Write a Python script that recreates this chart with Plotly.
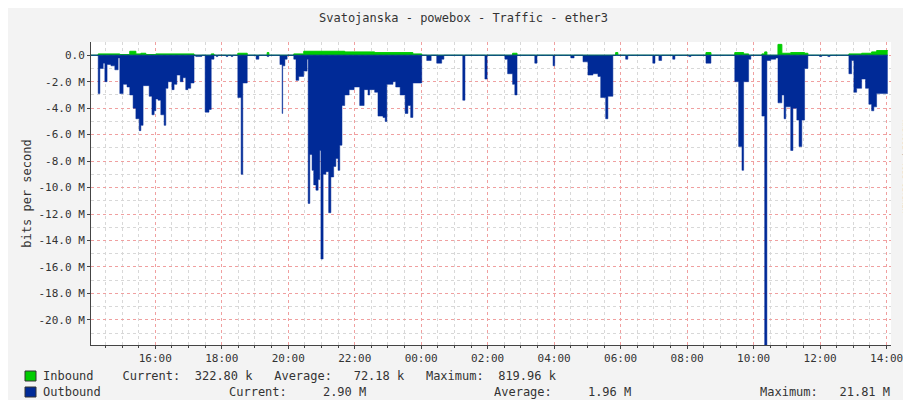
import plotly.graph_objects as go

# minutes after 14:00 of day 1, values in Mbit/s (outbound drawn negative)
out_min = [4, 17, 20, 26, 29, 33, 40, 47, 53, 56, 62, 69, 74, 80, 85, 91, 94, 98, 103, 109,
           114, 118, 121, 125, 130, 136, 139, 143, 150, 154, 159, 165, 170, 175, 179, 184, 190,
           193, 199, 204, 210, 217, 221, 226, 230, 233, 248, 251, 257, 260, 269, 275, 278, 286,
           302, 307, 322, 325, 345, 349, 350, 354, 358, 370, 374, 379, 388, 394, 396, 399, 403,
           406, 410, 414, 417, 419, 423, 428, 433, 437, 442, 446, 450, 453, 457, 462, 470, 479,
           489, 497, 504, 507, 516, 522, 531, 535, 538, 549, 554, 562, 571, 576, 581, 585, 601,
           610, 618, 628, 637, 641, 675, 679, 715, 719, 751, 756, 765, 769, 773, 805, 809, 838,
           841, 870, 876, 892, 901, 910, 919, 924, 933, 937, 946, 969, 973, 1018, 1022, 1029,
           1034, 1054, 1058, 1083, 1087, 1114, 1123, 1166, 1173, 1179, 1182, 1191, 1195, 1215,
           1220, 1224, 1231, 1240, 1244, 1251, 1255, 1258, 1267, 1271, 1278, 1282, 1287, 1292,
           1298, 1319, 1323, 1334, 1338, 1372, 1377, 1381, 1386, 1395, 1402, 1408, 1413, 1417,
           1422, 1442]
out_val = [0, -2.9, -1.0, -0.6, -2.0, -0.7, -0.8, -1.1, -0.2, -2.9, -2.2, -2.4, -3.0, -4.0, -4.8, -5.7, -5.3, -2.3, -2.3, -3.1,
           -4.5, -4.2, -3.3, -3.4, -4.5, -5.3, -2.5, -2.0, -2.6, -2.2, -1.5, -2.0, -1.7, -2.6, -2.5, -2.1, 0,
           -0.1, -0.1, 0, -4.3, -4.1, -0.3, 0, -0.1, 0, -0.1, 0, -0.1, 0, -3.2, -9.0, -2.1, 0,
           -0.3, 0, -0.1, 0, -0.7, -4.4, -0.8, -0.3, 0, -0.3, -1.9, -1.6, -1.2, -0.3, -11.2, -7.5, -8.7,
           -9.8, -10.2, -9.4, -7.2, -15.4, -9.0, -8.8, -11.9, -9.2, -8.4, -7.8, -8.7, -6.8, -3.8, -3.0, -2.6, -2.4,
           -3.8, -2.6, -3.0, -2.6, -2.8, -4.6, -4.7, -5.0, -2.2, -2.0, -2.4, -3.0, -4.4, -3.8, -4.7, -2.1, 0,
           -0.4, 0, -0.6, -0.3, 0, -3.4, 0, -1.8, 0, -0.3, -1.4, -2.2, -3.0, 0, -0.6, 0, -0.8,
           0, -0.2, 0, -0.5, -1.5, -1.4, -1.6, -3.2, -4.8, -3.1, 0, -0.3, 0, -0.6, 0, -0.4,
           0, -0.3, 0, -0.1, 0, -0.6, 0, -2.0, -6.9, -8.7, -2.0, -0.3, 0, -4.6,
           -21.9, -0.4, -0.3, -0.2, -3.6, -3.0, -4.8, -3.9, -7.2, -4.0, -4.9, -6.9, -4.9, -1.0,
           0, -0.1, 0, -0.1, 0, -1.4, -0.4, -2.8, -2.5, -1.8, -2.5, -3.7, -4.2, -3.9,
           -2.9, -2.9]

in_min = [4, 17, 56, 74, 85, 94, 103, 121, 190, 221, 226, 269, 286, 322, 325, 370, 388, 462, 516,
          585, 601, 765, 773, 951, 955, 1114, 1123, 1166, 1182, 1191, 1215, 1220, 1224, 1244,
          1251, 1267, 1292, 1298, 1372, 1395, 1413, 1422, 1442]
in_val = [0, 0.1, 0.05, 0.3, 0.1, 0.15, 0.05, 0.1, 0, 0.1, 0, 0.15, 0, 0.2, 0, 0.1, 0.3, 0.25, 0.2,
          0.1, 0, 0.15, 0, 0.2, 0, 0.2, 0, 0.2, 0.1, 0, 0.1, 0.25, 0, 0.82,
          0.15, 0.2, 0.15, 0, 0.1, 0.15, 0.25, 0.35, 0.33]

tick_min = [120, 240, 360, 480, 600, 720, 840, 960, 1080, 1200, 1320, 1440]
tick_txt = ["16:00", "18:00", "20:00", "22:00", "00:00", "02:00", "04:00", "06:00",
            "08:00", "10:00", "12:00", "14:00"]
y_ticks = [0, -2, -4, -6, -8, -10, -12, -14, -16, -18, -20]
y_txt = ["0.0"] + [f"{v:.1f} M" for v in y_ticks[1:]]

FONT = "DejaVu Sans Mono"
fig = go.Figure()
fig.add_trace(go.Scatter(x=out_min, y=out_val, mode="lines", line=dict(shape="hv", width=0.5, color="#002A97"),
                         fill="tozeroy", fillcolor="#002A97", hoverinfo="skip"))
fig.add_trace(go.Scatter(x=in_min, y=in_val, mode="lines", line=dict(shape="hv", width=1, color="#00CC00"),
                         fill="tozeroy", fillcolor="#00CC00", hoverinfo="skip"))
fig.add_trace(go.Scatter(x=[4, 1442], y=[0, 0], mode="lines", line=dict(color="#002A97", width=1),
                         hoverinfo="skip"))

fig.update_layout(
    width=911, height=400, showlegend=False,
    paper_bgcolor="#f3f3f3", plot_bgcolor="white",
    margin=dict(l=83, r=28, t=34, b=63, autoexpand=False),
    font=dict(family=FONT, size=11, color="#333"),
    title=dict(text="Svatojanska - powebox - Traffic - ether3", x=0.5, y=0.985, yanchor="top",
               font=dict(family=FONT, size=12, color="#333")),
)
fig.update_xaxes(range=[4, 1448], tickvals=tick_min, ticktext=tick_txt, showgrid=True, automargin=False,
                 gridcolor="#f0a0a0", griddash="dot", gridwidth=1, zeroline=False,
                 showline=True, linecolor="#444", ticks="outside", ticklen=3,
                 minor=dict(dtick=30, tick0=0, showgrid=True, gridcolor="#d8d8d8", griddash="dot", ticks="outside", ticklen=2))
fig.update_yaxes(range=[-21.9, 1.0], tickvals=y_ticks, ticktext=y_txt, showgrid=True, automargin=False,
                 gridcolor="#f0a0a0", griddash="dot", zeroline=False, showline=True, linecolor="#444",
                 ticks="outside", ticklen=3,
                 minor=dict(dtick=1, tick0=0, showgrid=True, gridcolor="#d8d8d8", griddash="dot"),
                 title=dict(text="bits per second", font=dict(family=FONT, size=12), standoff=4))

def px(x):
    return (x - 83) / 800

def py(y):
    return (337 - y) / 303

# legend boxes
for yy, col in [(368, "#00CC00"), (384, "#002A97")]:
    fig.add_shape(type="rect", xref="paper", yref="paper", x0=px(17), x1=px(28), y0=py(yy + 5), y1=py(yy - 5),
                  fillcolor=col, line=dict(color="#333", width=1))

rows = [
    (33, 368, "Inbound    Current:  322.80 k   Average:   72.18 k   Maximum:  819.96 k"),
    (33, 384, "Outbound"),
    (219, 384, "Current:     2.90 M"),
    (484, 384, "Average:     1.96 M"),
    (750, 384, "Maximum:   21.81 M"),
]
for x, y, t in rows:
    fig.add_annotation(xref="paper", yref="paper", x=px(x), y=py(y), text=t, showarrow=False,
                       xanchor="left", yanchor="middle", font=dict(family=FONT, size=12, color="#333"))
fig.add_annotation(xref="paper", yref="paper", x=px(903), y=py(110), text="RRDTOOL / TOBI OETIKER",
                   textangle=90, showarrow=False, font=dict(family=FONT, size=7, color="#999"))

fig.write_html("out.html")
